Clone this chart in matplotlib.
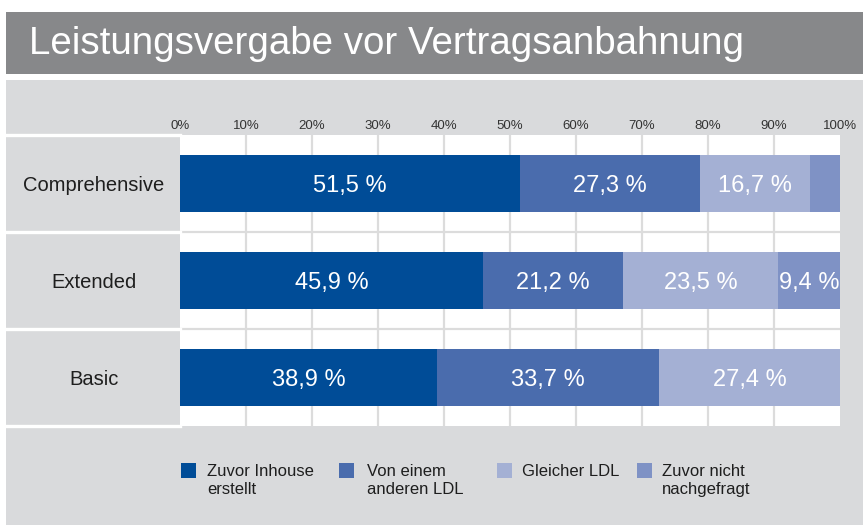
import matplotlib
matplotlib.use("Agg")
import matplotlib.pyplot as plt
import matplotlib.transforms as mtransforms
from matplotlib.patches import Rectangle

# ---------------- data ----------------
title = "Leistungsvergabe vor Vertragsanbahnung"
categories = ["Comprehensive", "Extended", "Basic"]
series_names = ["Zuvor Inhouse\nerstellt", "Von einem\nanderen LDL",
                "Gleicher LDL", "Zuvor nicht\nnachgefragt"]
inhouse = [51.5, 45.9, 38.9]
anderer_ldl = [27.3, 21.2, 33.7]
gleicher_ldl = [16.7, 23.5, 27.4]
nicht_nachgefragt = [4.5, 9.4, 0.0]
tick_values = [0, 10, 20, 30, 40, 50, 60, 70, 80, 90, 100]
tick_labels = ["0%", "10%", "20%", "30%", "40%", "50%", "60%", "70%", "80%", "90%", "100%"]

series = [inhouse, anderer_ldl, gleicher_ldl, nicht_nachgefragt]
colors = ["#004C97", "#4A6CAD", "#A4B0D4", "#7F92C5"]

# ---------------- layout ----------------
W, H = 863, 525
fig = plt.figure(figsize=(W / 100, H / 100), dpi=100)
fig.patch.set_facecolor("white")
plt.rcParams["font.family"] = ["Liberation Sans", "DejaVu Sans"]


def fx(x):
    return x / W


def fy(y):
    return 1 - y / H


# title bar and panel
fig.add_artist(Rectangle((fx(6), fy(74)), (W - 6) / W, (74 - 12) / H,
                         transform=fig.transFigure, color="#87888A", zorder=0, lw=0))
fig.add_artist(Rectangle((fx(6), 0), (W - 6) / W, (H - 80) / H,
                         transform=fig.transFigure, color="#D9DADC", zorder=0, lw=0))
fig.text(fx(29), fy(54), title, color="white", fontsize=27.7,
         ha="left", va="baseline")

ax = fig.add_axes([fx(180), fy(426), 660 / W, 291 / H])
ax.set_facecolor("white")
for s in ax.spines.values():
    s.set_visible(False)

y = list(range(len(categories)))
ax.set_xlim(0, 100)
ax.set_ylim(len(categories) - 0.5, -0.5)

# grid lines
ax.vlines(tick_values[1:-1], -0.5, len(categories) - 0.5, color="#DCDCDC", lw=1.6, zorder=1)
ax.hlines([i + 0.5 for i in y[:-1]], 0, 100, color="#DCDCDC", lw=1.6, zorder=1)
# white separators in label column
for yy in [i - 0.5 for i in y] + [len(categories) - 0.5]:
    ax.axhline(yy, xmin=-173 / 660, xmax=0, color="white", lw=2.4, clip_on=False, zorder=3)

# bars
left = [0.0] * len(categories)
for vals, col in zip(series, colors):
    ax.barh(y, vals, left=left, height=0.59, color=col, zorder=2, lw=0)
    for i, v in enumerate(vals):
        if v >= 5:
            lbl = f"{v:.1f}".replace(".", ",") + " %"
            tr = mtransforms.offset_copy(ax.transData, fig=fig, y=-0.358 * 17, units="points")
            ax.text(left[i] + v / 2, y[i], lbl, color="white", fontsize=17,
                    ha="center", va="baseline", transform=tr, zorder=4)
    left = [l + v for l, v in zip(left, vals)]

# category labels
blend = mtransforms.blended_transform_factory(fig.transFigure, ax.transData)
tr_cat = mtransforms.offset_copy(blend, fig=fig, y=-0.358 * 14.5, units="points")
for i, c in enumerate(categories):
    ax.text(fx(94), y[i], c, fontsize=14.5, color="#1E1E1E", ha="center",
            va="baseline", transform=tr_cat)

# ticks at top
ax.set_yticks([])
ax.set_xticks(tick_values)
ax.set_xticklabels(tick_labels)
ax.xaxis.tick_top()
ax.tick_params(axis="x", length=0, pad=2.5, labelsize=9.5, labelcolor="#333333")

# legend (manual, matching reference layout)
sq_x = [181, 339, 497, 637]
tx_x = [207, 367, 522, 662]
for name, col, sx, tx in zip(series_names, colors, sq_x, tx_x):
    fig.add_artist(Rectangle((fx(sx), fy(478)), 15 / W, 15 / H,
                             transform=fig.transFigure, color=col, lw=0))
    fig.text(fx(tx), fy(464.5), name, fontsize=12, color="#1E1E1E",
             ha="left", va="top", linespacing=1.2)

fig.savefig("out.png", dpi=100, facecolor="white")
